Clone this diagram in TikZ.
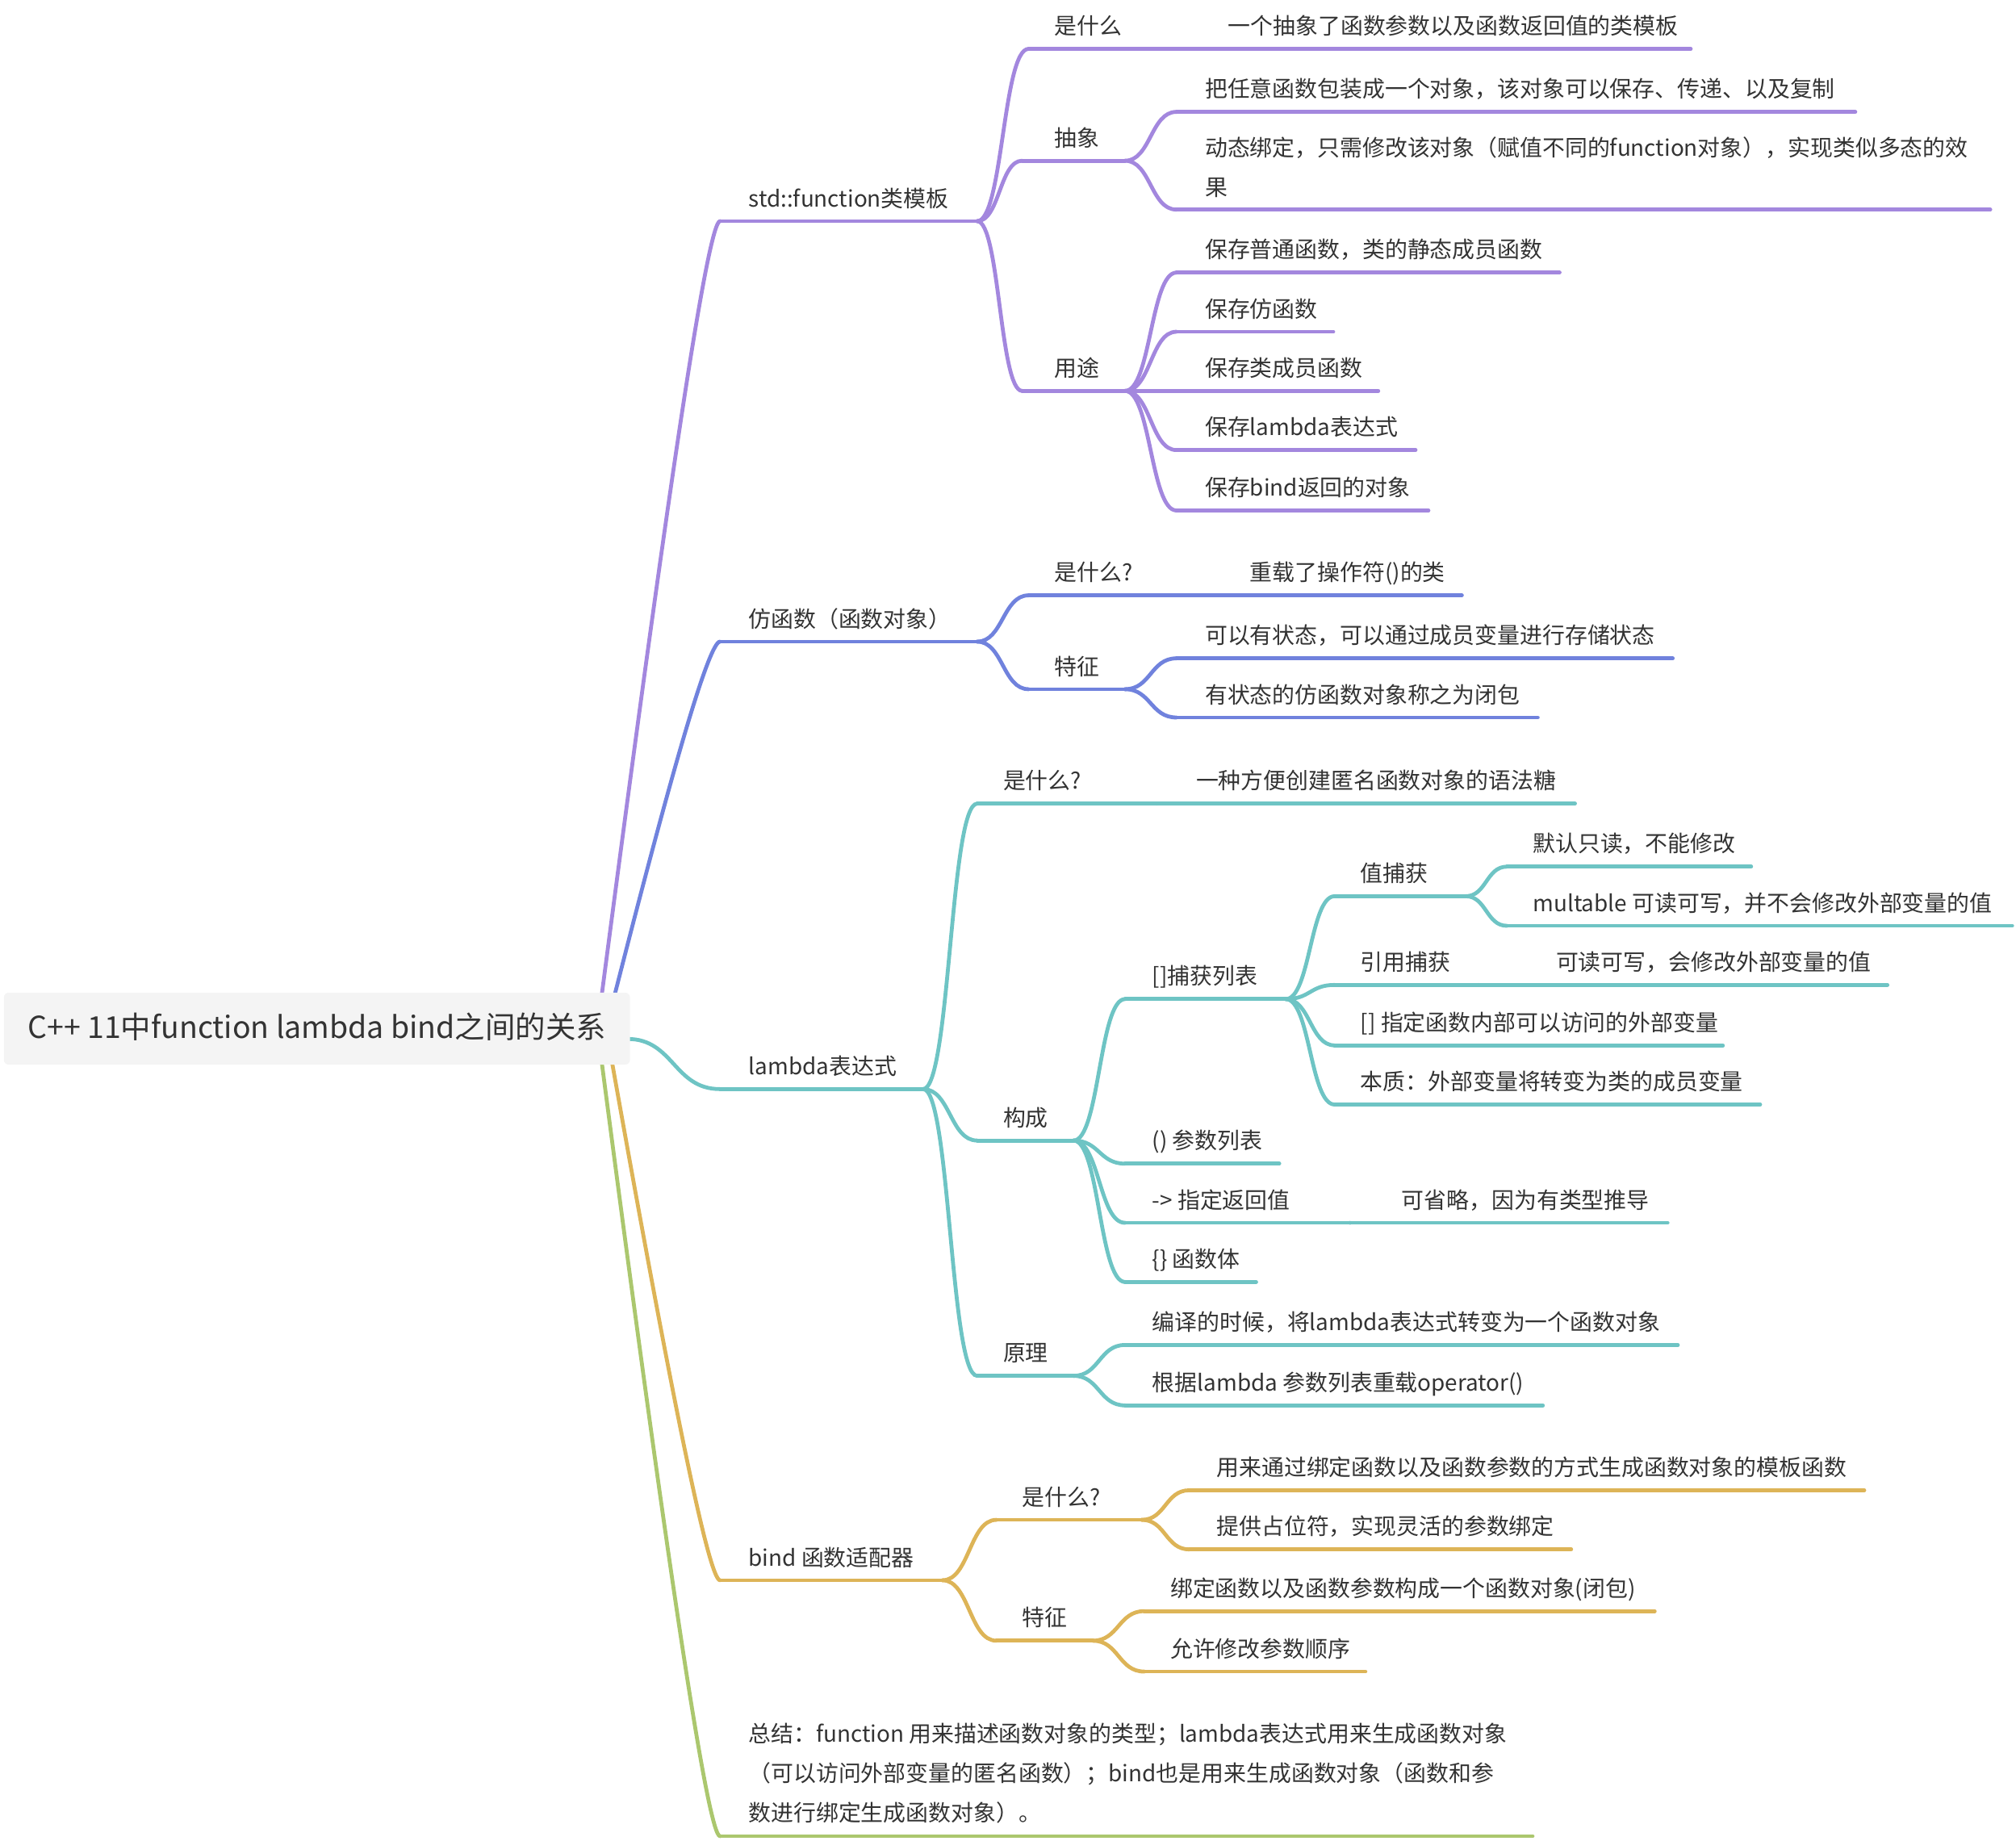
\documentclass[tikz,border=0pt]{standalone}
\usepackage{fontspec}
\setmainfont{Noto Sans CJK SC}
\usetikzlibrary{calc}
\definecolor{cpur}{HTML}{A387DE}
\definecolor{cblu}{HTML}{7082DD}
\definecolor{ctea}{HTML}{6EC4C4}
\definecolor{cgol}{HTML}{DDB457}
\definecolor{cgrn}{HTML}{ABC76E}
\definecolor{tc}{HTML}{333333}
\definecolor{rootfill}{HTML}{F4F4F4}
\newcommand\mmstrut{\rule[-0.12em]{0pt}{1em}}
\tikzset{
  basetxt/.style={inner sep=0pt, text=tc, font=\fontsize{14}{24.5}\selectfont},
  txt/.style={basetxt, anchor=west, text height=0.88em, text depth=0.12em},
  txtm/.style={basetxt, anchor=west, align=left},
  ul/.style={line width=2.4pt, line cap=round},
  link/.style={line width=2.4pt, line cap=round,
    to path={let \p1=(\tikztostart), \p2=(\tikztotarget) in
      .. controls (0.5*\x1+0.5*\x2,\y1) and (0.5*\x1+0.5*\x2,\y2) .. (\tikztotarget)}},
  rootlink/.style={line width=2.4pt, line cap=round,
    to path={let \p1=(\tikztostart), \p2=(\tikztotarget) in
      .. controls (0.43*\x1+0.57*\x2,0.333*\y1+0.667*\y2) and (0.1*\x1+0.9*\x2,\y2) .. (\tikztotarget)}},
}
% #1 name, #2 colour, #3 underline y, #4 x start, #5 x end, #6 text x, #7 text
\newcommand\mmtopic[7]{%
  \coordinate (#1-l) at (#4,#3);
  \coordinate (#1-r) at (#5,#3);
  \node[txt] (#1) at (#6,#3-16) {#7};
  \draw[ul,#2] (#1-l) -- (#1-r);}
\begin{document}
\begin{tikzpicture}[x=0.8pt,y=-0.8pt]
\useasboundingbox (0,0) rectangle (1568,1431.2);

% ---------- purple: std::function ----------
\mmtopic{fn}{cpur}{172}{560}{760}{582}{std::function类模板}
\mmtopic{fnwhat}{cpur}{38}{800}{900}{820}{是什么}
\mmtopic{fnwhatA}{cpur}{38}{900}{1315}{955}{一个抽象了函数参数以及函数返回值的类模板}
\mmtopic{fnabs}{cpur}{125}{795}{875}{820}{抽象}
\mmtopic{fnabsA}{cpur}{87}{915}{1443}{937}{把任意函数包装成一个对象，该对象可以保存、传递、以及复制}
\coordinate (fnabsB-l) at (915,163);
\coordinate (fnabsB-r) at (1548,163);
\node[txtm] (fnabsB) at (937,130) {\mmstrut 动态绑定，只需修改该对象（赋值不同的function对象），实现类似多态的效\\果\mmstrut};
\draw[ul,cpur] (fnabsB-l) -- (fnabsB-r);
\mmtopic{fnuse}{cpur}{304}{795}{875}{820}{用途}
\mmtopic{fnuseA}{cpur}{212}{915}{1213}{937}{保存普通函数，类的静态成员函数}
\mmtopic{fnuseB}{cpur}{258}{915}{1037}{937}{保存仿函数}
\mmtopic{fnuseC}{cpur}{304}{915}{1072}{937}{保存类成员函数}
\mmtopic{fnuseD}{cpur}{350}{915}{1101}{937}{保存lambda表达式}
\mmtopic{fnuseE}{cpur}{397}{915}{1111}{937}{保存bind返回的对象}
\draw[link,cpur] (fn-r) to (fnwhat-l);
\draw[ul,cpur] (fnwhat-r) -- (fnwhatA-l);
\draw[link,cpur] (fn-r) to (fnabs-l);
\draw[link,cpur] (fn-r) to (fnuse-l);
\draw[link,cpur] (fnabs-r) to (fnabsA-l);
\draw[link,cpur] (fnabs-r) to (fnabsB-l);
\foreach \k in {A,B,C,D,E} \draw[link,cpur] (fnuse-r) to (fnuse\k-l);

% ---------- blue: functor ----------
\mmtopic{fo}{cblu}{499}{560}{760}{582}{仿函数（函数对象）}
\mmtopic{fowhat}{cblu}{463}{800}{900}{820}{是什么?}
\mmtopic{fowhatA}{cblu}{463}{900}{1137}{972}{重载了操作符()的类}
\mmtopic{fofeat}{cblu}{536}{800}{875}{820}{特征}
\mmtopic{fofeatA}{cblu}{512}{915}{1301}{937}{可以有状态，可以通过成员变量进行存储状态}
\mmtopic{fofeatB}{cblu}{558}{915}{1196}{937}{有状态的仿函数对象称之为闭包}
\draw[link,cblu] (fo-r) to (fowhat-l);
\draw[ul,cblu] (fowhat-r) -- (fowhatA-l);
\draw[link,cblu] (fo-r) to (fofeat-l);
\draw[link,cblu] (fofeat-r) to (fofeatA-l);
\draw[link,cblu] (fofeat-r) to (fofeatB-l);

% ---------- teal: lambda ----------
\mmtopic{la}{ctea}{847}{560}{718}{582}{lambda表达式}
\mmtopic{lawhat}{ctea}{625}{760}{900}{780}{是什么?}
\mmtopic{lawhatA}{ctea}{625}{900}{1225}{930}{一种方便创建匿名函数对象的语法糖}
\mmtopic{lacomp}{ctea}{887}{760}{835}{780}{构成}
\mmtopic{lacap}{ctea}{777}{875}{1000}{896}{[]捕获列表}
\mmtopic{laval}{ctea}{697}{1038}{1140}{1058}{值捕获}
\mmtopic{lavalA}{ctea}{674}{1172}{1362}{1192}{默认只读，不能修改}
\mmtopic{lavalB}{ctea}{720}{1172}{1565}{1192}{multable 可读可写，并不会修改外部变量的值}
\mmtopic{laref}{ctea}{766}{1038}{1150}{1058}{引用捕获}
\mmtopic{larefA}{ctea}{766}{1150}{1468}{1210}{可读可写，会修改外部变量的值}
\mmtopic{labr}{ctea}{813}{1038}{1340}{1058}{[] 指定函数内部可以访问的外部变量}
\mmtopic{laess}{ctea}{859}{1038}{1369}{1058}{本质：外部变量将转变为类的成员变量}
\mmtopic{lapar}{ctea}{905}{875}{995}{896}{() 参数列表}
\mmtopic{laret}{ctea}{951}{875}{1050}{896}{-> 指定返回值}
\mmtopic{laretA}{ctea}{951}{1050}{1297}{1090}{可省略，因为有类型推导}
\mmtopic{labody}{ctea}{997}{875}{977}{896}{\{\} 函数体}
\mmtopic{laprin}{ctea}{1070}{760}{835}{780}{原理}
\mmtopic{laprinA}{ctea}{1046}{875}{1305}{896}{编译的时候，将lambda表达式转变为一个函数对象}
\mmtopic{laprinB}{ctea}{1093}{875}{1200}{896}{根据lambda 参数列表重载operator()}
\draw[link,ctea] (la-r) to (lawhat-l);
\draw[ul,ctea] (lawhat-r) -- (lawhatA-l);
\draw[link,ctea] (la-r) to (lacomp-l);
\draw[link,ctea] (la-r) to (laprin-l);
\draw[link,ctea] (lacomp-r) to (lacap-l);
\draw[link,ctea] (lacomp-r) to (lapar-l);
\draw[link,ctea] (lacomp-r) to (laret-l);
\draw[ul,ctea] (laret-r) -- (laretA-l);
\draw[link,ctea] (lacomp-r) to (labody-l);
\draw[link,ctea] (lacap-r) to (laval-l);
\draw[link,ctea] (lacap-r) to (laref-l);
\draw[ul,ctea] (laref-r) -- (larefA-l);
\draw[link,ctea] (lacap-r) to (labr-l);
\draw[link,ctea] (lacap-r) to (laess-l);
\draw[link,ctea] (laval-r) to (lavalA-l);
\draw[link,ctea] (laval-r) to (lavalB-l);
\draw[link,ctea] (laprin-r) to (laprinA-l);
\draw[link,ctea] (laprin-r) to (laprinB-l);

% ---------- gold: bind ----------
\mmtopic{bi}{cgol}{1229}{560}{733}{582}{bind 函数适配器}
\mmtopic{biwhat}{cgol}{1182}{775}{888}{795}{是什么?}
\mmtopic{biwhatA}{cgol}{1159}{925}{1450}{946}{用来通过绑定函数以及函数参数的方式生成函数对象的模板函数}
\mmtopic{biwhatB}{cgol}{1205}{925}{1222}{946}{提供占位符，实现灵活的参数绑定}
\mmtopic{bifeat}{cgol}{1276}{775}{850}{795}{特征}
\mmtopic{bifeatA}{cgol}{1253}{890}{1287}{910}{绑定函数以及函数参数构成一个函数对象(闭包)}
\mmtopic{bifeatB}{cgol}{1300}{890}{1062}{910}{允许修改参数顺序}
\draw[link,cgol] (bi-r) to (biwhat-l);
\draw[link,cgol] (bi-r) to (bifeat-l);
\draw[link,cgol] (biwhat-r) to (biwhatA-l);
\draw[link,cgol] (biwhat-r) to (biwhatB-l);
\draw[link,cgol] (bifeat-r) to (bifeatA-l);
\draw[link,cgol] (bifeat-r) to (bifeatB-l);

% ---------- green: summary ----------
\coordinate (sum-l) at (560,1428);
\coordinate (sum-r) at (1192,1428);
\node[txtm] (sum) at (582,1379) {\mmstrut 总结：function 用来描述函数对象的类型；lambda表达式用来生成函数对象\\（可以访问外部变量的匿名函数）；bind也是用来生成函数对象（函数和参\\数进行绑定生成函数对象）。\mmstrut};
\draw[ul,cgrn] (sum-l) -- (sum-r);

% ---------- root ----------
\coordinate (r-p) at (468,774);
\coordinate (r-b) at (478,774);
\coordinate (r-t) at (488,808);
\coordinate (r-g) at (476,826);
\coordinate (r-n) at (468,826);
\draw[rootlink,cpur] (r-p) to (fn-l);
\draw[rootlink,cblu] (r-b) to (fo-l);
\draw[link,ctea] (r-t) to (la-l);
\draw[rootlink,cgol] (r-g) to (bi-l);
\draw[rootlink,cgrn] (r-n) to (sum-l);
\coordinate (rootA) at (3,772);
\coordinate (rootB) at (490,828);
\fill[rootfill, rounded corners=3pt] (rootA) rectangle (rootB);
\node[basetxt, font=\fontsize{18.8}{24}\selectfont, text height=0.88em, text depth=0.12em] (root) at (246.5,803) {C++ 11中function lambda bind之间的关系};
\end{tikzpicture}
\end{document}
